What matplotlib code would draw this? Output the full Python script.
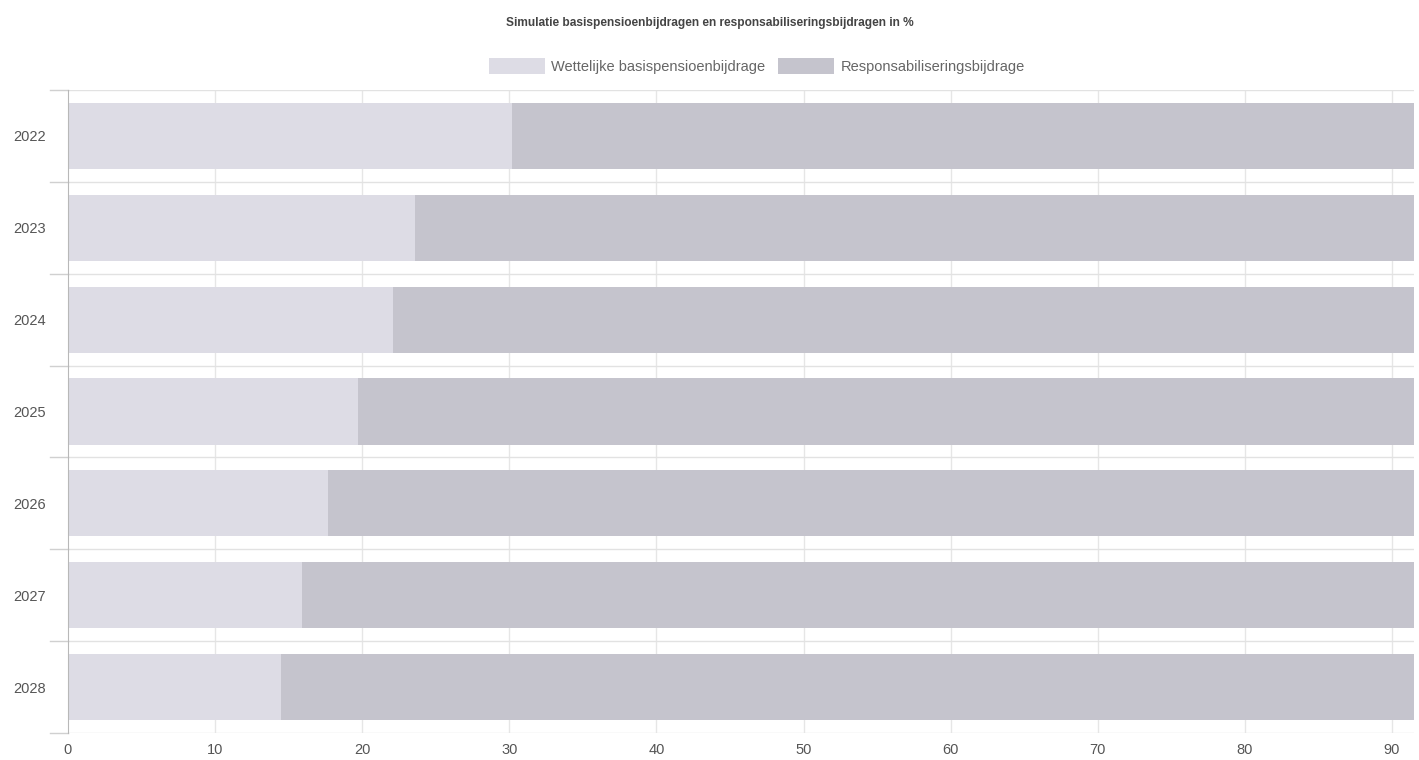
import matplotlib
matplotlib.use("Agg")
import matplotlib.pyplot as plt
import numpy as np
from matplotlib.patches import Patch

plt.rcParams["font.family"] = ["Liberation Sans", "DejaVu Sans"]

years = ["2022", "2023", "2024", "2025", "2026", "2027", "2028"]
basis = [30.2, 23.6, 22.1, 19.7, 17.7, 15.9, 14.5]
respons = [69.8, 76.4, 77.9, 80.3, 82.3, 84.1, 85.5]
xticks = [0, 10, 20, 30, 40, 50, 60, 70, 80, 90]

c_light = "#dddce5"
c_dark = "#c5c4cd"

fig = plt.figure(figsize=(14.19, 7.6), dpi=100)
ax = fig.add_axes([68/1419, 1 - 733/760, (1414-68)/1419, (733-90)/760])

y = np.arange(len(years))
ax.barh(y, basis, height=0.72, color=c_light, zorder=2)
ax.barh(y, respons, left=basis, height=0.72, color=c_dark, zorder=2)

ax.set_xlim(0, 91.5)
ax.set_ylim(len(years) - 0.5, -0.5)
ax.set_yticks(y)
ax.set_yticklabels(years)
ax.set_xticks(xticks)
ax.set_xticklabels([str(t) for t in xticks])

# grid: vertical at ticks, horizontal at category boundaries
for t in xticks[1:]:
    ax.axvline(t, color="#e6e6e6", lw=1, zorder=1)
for b in np.arange(-0.5, len(years) + 0.5, 1.0):
    ax.axhline(b, color="#e2e2e2", lw=1, zorder=1)
    ax.plot([-1.2, 0], [b, b], color="#d0d0d0", lw=1, clip_on=False, zorder=1)

for s in ["top", "right", "bottom"]:
    ax.spines[s].set_visible(False)
ax.spines["left"].set_color("#b8b8b8")
ax.tick_params(axis="y", length=0, pad=16, labelsize=10.5, labelcolor="#555555")
ax.tick_params(axis="x", length=0, pad=7, labelsize=10.5, labelcolor="#555555")

fig.text(0.5, 1 - 23/760, "Simulatie basispensioenbijdragen en responsabiliseringsbijdragen in %",
         ha="center", va="center", fontsize=8.6, fontweight="bold", color="#444444")

handles = [Patch(facecolor=c_light, edgecolor="none"), Patch(facecolor=c_dark, edgecolor="none")]
fig.legend(handles, ["Wettelijke basispensioenbijdrage", "Responsabiliseringsbijdrage"],
           loc="center left", bbox_to_anchor=(476/1419, 1 - 66/760), ncol=2, frameon=False,
           fontsize=10.5, labelcolor="#666666", handlelength=3.8, handleheight=1.25,
           handletextpad=0.45, columnspacing=0.9)

fig.savefig("out.png", dpi=100, facecolor="white")
